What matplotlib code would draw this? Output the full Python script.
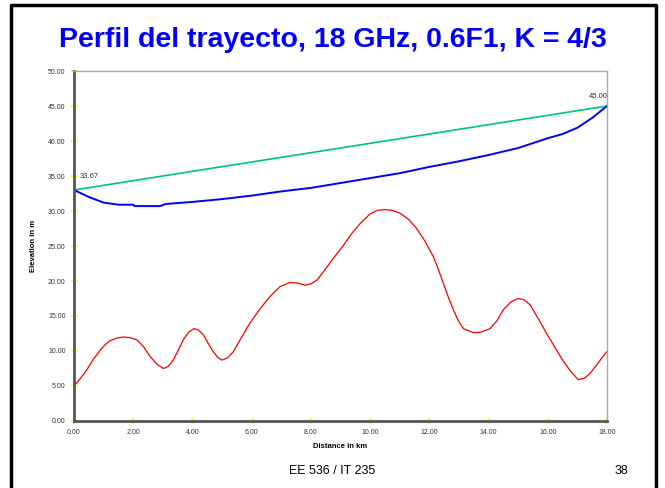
import numpy as np
import matplotlib.pyplot as plt
from matplotlib.lines import Line2D

plt.rcParams['font.family'] = ['Liberation Sans', 'DejaVu Sans']

# Terrain profile (red)
terrain_x = [0.0, 0.2, 0.43, 0.65, 0.88, 1.05, 1.22, 1.45, 1.67, 1.9, 2.12, 2.35, 2.57, 2.8, 3.02, 3.18,
             3.35, 3.52, 3.69, 3.87, 4.05, 4.2, 4.37, 4.53, 4.7, 4.85, 4.99, 5.18, 5.38, 5.65, 5.94,
             6.28, 6.62, 6.96, 7.29, 7.55, 7.8, 8.0, 8.2, 8.42, 8.75, 9.1, 9.38, 9.66, 10.0, 10.25,
             10.5, 10.75, 11.0, 11.3, 11.57, 11.85, 12.13, 12.3, 12.47, 12.64, 12.81, 12.98, 13.15,
             13.49, 13.75, 14.05, 14.28, 14.5, 14.75, 15.0, 15.2, 15.4, 15.68, 15.96, 16.23, 16.5,
             16.77, 17.03, 17.23, 17.43, 17.7, 17.99]
terrain_y = [5.0, 6.0, 7.3, 8.8, 10.1, 10.9, 11.5, 11.85, 12.0, 11.9, 11.6, 10.6, 9.2, 8.1, 7.5, 7.8,
             8.7, 10.1, 11.6, 12.7, 13.2, 13.0, 12.3, 11.1, 9.9, 9.1, 8.7, 9.0, 9.9, 11.9, 14.0,
             16.0, 17.8, 19.2, 19.8, 19.7, 19.4, 19.6, 20.1, 21.3, 23.2, 25.1, 26.8, 28.2, 29.6, 30.1,
             30.2, 30.1, 29.7, 28.8, 27.5, 25.7, 23.5, 21.7, 19.7, 17.7, 15.9, 14.3, 13.2,
             12.6, 12.7, 13.2, 14.3, 15.9, 17.0, 17.5, 17.3, 16.6, 14.6, 12.5, 10.6, 8.7,
             7.1, 5.9, 6.1, 6.8, 8.3, 9.9]

# Line of sight (green)
los_x = [0.0, 18.0]
los_y = [33.0, 45.0]

# 0.6 F1 clearance (blue)
fres_x = [0.0, 0.5, 1.0, 1.5, 2.0, 2.05, 2.9, 3.1, 4.0, 5.0, 6.0, 7.0, 8.0, 9.0, 10.0, 11.0, 12.0,
          13.0, 14.0, 15.0, 16.0, 16.5, 17.0, 17.5, 18.0]
fres_y = [33.0, 32.0, 31.2, 30.9, 30.9, 30.7, 30.7, 31.0, 31.3, 31.7, 32.2, 32.8, 33.3, 34.0, 34.7, 35.4, 36.3,
          37.1, 38.0, 39.0, 40.4, 41.0, 41.9, 43.3, 45.0]

fig = plt.figure(figsize=(6.65, 4.88), dpi=100)
ax = fig.add_axes([0.1113, 0.1373, 0.8015, 0.7172])

ax.plot(terrain_x, terrain_y, color='#ff0000', lw=0.9)
ax.plot(los_x, los_y, color='#00c08a', lw=1.2)
ax.plot(fres_x, fres_y, color='#0000ff', lw=1.4)

ax.text(0.2, 34.9, '33.67', fontsize=5.5, color='#333333', va='center')
ax.text(17.7, 46.4, '45.00', fontsize=5.5, color='#333333', ha='center', va='center')

ax.set_xlim(0, 18)
ax.set_ylim(0, 50)
ax.set_xticks(np.arange(0, 19, 2))
ax.set_yticks(np.arange(0, 51, 5))
ax.xaxis.set_major_formatter(plt.FormatStrFormatter('%.2f'))
ax.yaxis.set_major_formatter(plt.FormatStrFormatter('%.2f'))
ax.tick_params(direction='inout', length=4, width=1.2, color='#ffff00', labelsize=5,
               labelcolor='#333333', pad=4)
ax.set_xlabel('Distance in km', fontsize=5.5, fontweight='bold', labelpad=5)
ax.set_ylabel('Elevation in m', fontsize=5.5, fontweight='bold', labelpad=8)

for s in ['left', 'bottom']:
    ax.spines[s].set_color('#555555')
    ax.spines[s].set_linewidth(2)
for s in ['top', 'right']:
    ax.spines[s].set_color('#aaaaaa')
    ax.spines[s].set_linewidth(1)

fig.text(0.5, 0.918, 'Perfil del trayecto, 18 GHz, 0.6F1, K = 4/3', ha='center', va='center',
         fontsize=20.5, fontweight='bold', color='#0000ff')
fig.text(0.5, 0.035, 'EE 536 / IT 235', ha='center', va='center', fontsize=9)
fig.text(0.935, 0.035, '38', ha='center', va='center', fontsize=9)

# slide frame
fig.add_artist(Line2D([0.016, 0.016, 0.986, 0.986], [0.0, 0.99, 0.99, 0.0],
                      transform=fig.transFigure, color='black', lw=2.5))

fig.savefig('out.png', dpi=100)
